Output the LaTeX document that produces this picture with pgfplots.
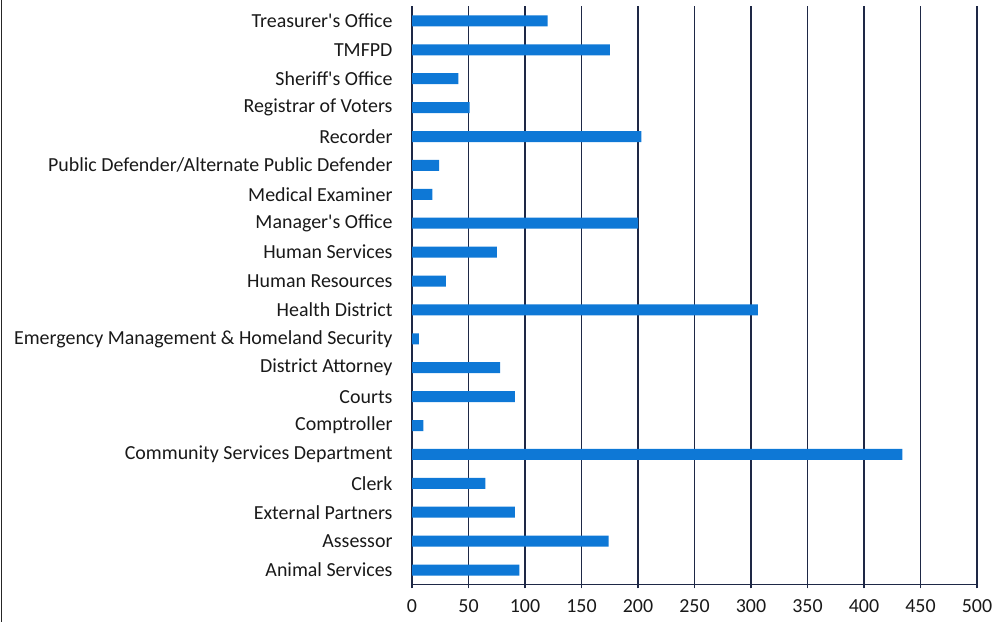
\documentclass[border=0pt]{standalone}
\usepackage{fontspec}
\setmainfont{Carlito}
\usepackage{pgfplots}
\pgfplotsset{compat=1.18}
\definecolor{barblue}{RGB}{14,120,214}
\definecolor{gridc}{RGB}{30,40,70}
\begin{document}
\begin{tikzpicture}[x=1bp,y=1bp]
\useasboundingbox (0,0) rectangle (992,622);
\draw[line width=1.6bp, black!85] (1.5,0) -- (1.5,622);
\begin{axis}[
  at={(412bp,37.5bp)}, anchor=south west,
  scale only axis, width=565bp, height=578bp,
  xmin=0, xmax=500, ymin=-0.5, ymax=19.5,
  xtick={0,50,...,500},
  ytick={0,...,19},
  yticklabels={Animal Services, Assessor, External Partners, Clerk, Community Services Department, Comptroller, Courts, District Attorney, Emergency Management \& Homeland Security, Health District, Human Resources, Human Services, Manager\textquotesingle s Office, Medical Examiner, Public Defender/Alternate Public Defender, Recorder, Registrar of Voters, Sheriff\textquotesingle s Office, TMFPD, Treasurer\textquotesingle s Office},
  font=\fontsize{20}{23}\selectfont,
  /pgf/number format/assume math mode=true,
  xbar, bar width=11bp,
  axis x line*=bottom, axis y line*=left,
  xmajorgrids, grid style={gridc, line width=1.25bp},
  axis line style={gridc, line width=1.25bp},
  xtick align=outside, major tick length=4bp,
  xtick style={gridc, line width=1.1bp},
  ytick style={draw=none},
  yticklabel style={xshift=-12bp, text=black!90},
  xticklabel style={yshift=-8bp, text=black!90},
]
\addplot[fill=barblue, draw=none] coordinates {
(95,0) (174,1) (91,2) (65,3) (434,4) (10,5) (91,6) (78,7) (6,8) (306,9)
(30,10) (75,11) (200,12) (18,13) (24,14) (203,15) (51,16) (41,17) (175,18) (120,19)
};
\end{axis}
\end{tikzpicture}
\end{document}
